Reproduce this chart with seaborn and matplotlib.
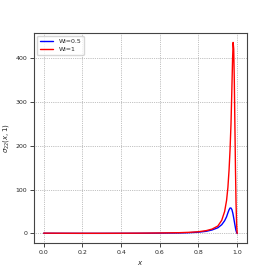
import numpy as np
import pandas as pd
import seaborn as sns
import matplotlib.pyplot as plt

# values
x_half = [0.0, 0.1, 0.2, 0.3, 0.4, 0.5, 0.6, 0.7, 0.75, 0.8, 0.84, 0.87, 0.9, 0.92,
          0.935, 0.945, 0.952, 0.958, 0.963, 0.968, 0.973, 0.978, 0.983, 0.988, 0.993, 0.997, 1.0]
s_half = [0.5, 0.4, 0.3, 0.3, 0.4, 0.5, 0.8, 1.2, 1.8, 3.0, 5.0, 8.0, 13, 20,
          29, 38, 47, 54, 58, 58, 54, 45, 33, 20, 8, 2, 0]

x_one = [0.0, 0.1, 0.2, 0.3, 0.4, 0.5, 0.6, 0.7, 0.75, 0.8, 0.84, 0.87, 0.9, 0.92,
         0.935, 0.945, 0.952, 0.958, 0.963, 0.968, 0.972, 0.976, 0.979, 0.982, 0.985,
         0.988, 0.991, 0.994, 0.997, 1.0]
s_one = [0.8, 0.6, 0.5, 0.5, 0.6, 0.8, 1.2, 1.8, 2.6, 4.0, 6.5, 10, 17, 30,
         50, 75, 105, 145, 190, 250, 320, 395, 435, 420, 350, 250, 150, 70, 20, 0]

sns.set_style("ticks")

df = pd.concat([
    pd.DataFrame({'x': x_half, 'y': s_half, 'Wi': 'Wi=0.5'}),
    pd.DataFrame({'x': x_one, 'y': s_one, 'Wi': 'Wi=1'}),
])

fig = plt.figure(figsize=(2.74, 2.74), dpi=100)
ax = fig.add_axes([0.124, 0.113, 0.777, 0.767])
sns.lineplot(data=df, x='x', y='y', hue='Wi', palette=['blue', 'red'],
             linewidth=1.0, ax=ax, legend=True)
ax.grid(True, linestyle=':', color='#888888', linewidth=0.5)
ax.set_xlabel('$x$', fontsize=5, labelpad=3)
ax.set_ylabel(r'$\sigma_{22}(x, 1)$', fontsize=5, labelpad=3)
ax.tick_params(labelsize=4.5, length=2.8, width=0.6, pad=2)
for s in ax.spines.values():
    s.set_color('#444444')
    s.set_linewidth(0.8)
ax.set_yticks([0, 100, 200, 300, 400])
ax.set_xticks([0.0, 0.2, 0.4, 0.6, 0.8, 1.0])
leg = ax.legend(loc='upper left', fontsize=4.5, handlelength=2.2, framealpha=0.8)
leg.set_title(None)

fig.savefig('out.png', dpi=100)
